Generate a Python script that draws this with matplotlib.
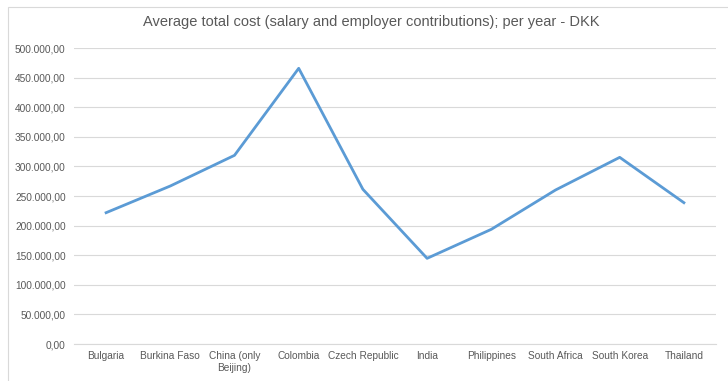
import matplotlib
matplotlib.use("Agg")
import matplotlib.pyplot as plt
from matplotlib.patches import Rectangle
from matplotlib.ticker import FuncFormatter

# data
countries = ["Bulgaria", "Burkina Faso", "China (only\nBeijing)", "Colombia",
             "Czech Republic", "India", "Philippines", "South Africa",
             "South Korea", "Thailand"]
cost_dkk = [221800, 266900, 318700, 465700, 261300,
            144700, 193700, 260100, 315300, 238700]
y_ticks = list(range(0, 500001, 50000))

TEXT = "#595959"
LINE = "#5B9BD5"
GRID = "#D9D9D9"

plt.rcParams["font.family"] = ["Liberation Sans Narrow", "Liberation Sans", "DejaVu Sans"]

fig = plt.figure(figsize=(7.28, 3.81), dpi=100)
ax = fig.add_axes([74 / 728, 1 - 344 / 381, 642 / 728, 296 / 381])

# chart area border
fig.patches.append(Rectangle((8 / 728, -0.1), 1.2, 1.1 - 7 / 381,
                             transform=fig.transFigure, fill=False,
                             edgecolor="#D9D9D9", linewidth=0.8))

x = list(range(len(countries)))
ax.plot(x, cost_dkk, color=LINE, linewidth=2.0, solid_joinstyle="round")

ax.set_xlim(-0.5, len(countries) - 0.5)
ax.set_ylim(0, 500000)
ax.set_yticks(y_ticks)
ax.yaxis.set_major_formatter(FuncFormatter(
    lambda v, p: "{:,.2f}".format(v).replace(",", "X").replace(".", ",").replace("X", ".")))
ax.set_xticks(x)
ax.set_xticklabels(countries, fontsize=7.3, color=TEXT, linespacing=1.3)
ax.tick_params(axis="y", labelsize=7.3, labelcolor=TEXT, length=0, pad=6)
ax.tick_params(axis="x", length=0, pad=5)

ax.grid(axis="y", color=GRID, linewidth=0.8)
ax.set_axisbelow(True)
for s in ["top", "right", "left"]:
    ax.spines[s].set_visible(False)
ax.spines["bottom"].set_color(GRID)
ax.spines["bottom"].set_linewidth(0.8)

fig.text(0.51, 1 - 22 / 381, "Average total cost (salary and employer contributions); per year - DKK",
         ha="center", va="center", fontsize=10.5, color=TEXT)

fig.savefig("out.png", dpi=100)
